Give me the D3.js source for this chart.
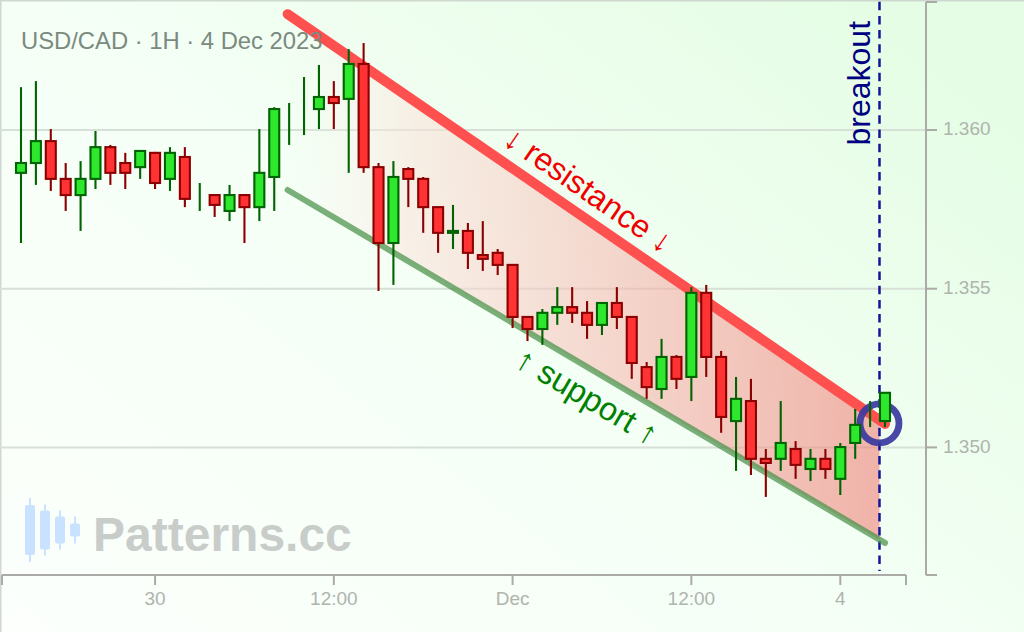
<!DOCTYPE html>
<html><head><meta charset="utf-8">
<script src="https://cdn.jsdelivr.net/npm/d3@7/dist/d3.min.js"></script>
<style>html,body{margin:0;padding:0;background:#fff}svg{display:block;font-family:"Liberation Sans",Arial,sans-serif}</style>
</head><body><svg id="c" width="1024" height="632"></svg>
<script>
const highs=[1.36135,1.36154,1.36003,1.35896,1.35902,1.35997,1.35953,1.35928,1.35934,1.35931,1.35946,1.35946,1.35833,1.35795,1.35827,1.35795,1.36003,1.36072,1.36085,1.36167,1.36205,1.36154,1.36255,1.36274,1.35896,1.35902,1.35883,1.35852,1.35757,1.35764,1.35707,1.35713,1.35625,1.35575,1.35411,1.35436,1.35505,1.35505,1.35461,1.35455,1.35505,1.35411,1.35269,1.35342,1.35291,1.35505,1.35512,1.35304,1.35222,1.35216,1.34995,1.35146,1.35020,1.34995,1.34995,1.35014,1.35121,1.35146,1.35172];
const lows=[1.35644,1.35827,1.35808,1.35745,1.35682,1.35814,1.35827,1.35814,1.35846,1.35814,1.35808,1.35757,1.35745,1.35726,1.35713,1.35644,1.35713,1.35745,1.35953,1.35984,1.36003,1.36003,1.35865,1.35865,1.35493,1.35512,1.35757,1.35676,1.35613,1.35625,1.35562,1.35556,1.35543,1.35376,1.35335,1.35323,1.35386,1.35392,1.35342,1.35354,1.35373,1.35216,1.35153,1.35153,1.35184,1.35146,1.35222,1.35046,1.34926,1.34913,1.34844,1.34926,1.34901,1.34894,1.34901,1.34850,1.34964,1.35064,1.35064];
const opens=[1.35865,1.35896,1.35965,1.35846,1.35795,1.35846,1.35946,1.35896,1.35883,1.35928,1.35846,1.35915,null,1.35795,1.35745,1.35795,1.35757,1.35852,null,null,1.36066,1.36104,1.36098,1.36208,1.35883,1.35644,1.35877,1.35846,1.35757,1.35676,1.35682,1.35606,1.35613,1.35575,1.35411,1.35373,1.35424,1.35442,1.35424,1.35386,1.35455,1.35411,1.35253,1.35184,1.35285,1.35222,1.35487,1.35285,1.35083,1.35146,1.34964,1.34964,1.34995,1.34932,1.34964,1.34901,1.35014,null,1.35083];
const closes=[1.35896,1.35965,1.35846,1.35795,1.35846,1.35946,1.35865,1.35865,1.35934,1.35833,1.35928,1.35783,null,1.35764,1.35795,1.35757,1.35865,1.36066,null,null,1.36104,1.36085,1.36208,1.35883,1.35644,1.35852,1.35846,1.35757,1.35676,1.35682,1.35613,1.35594,1.35575,1.35411,1.35373,1.35424,1.35442,1.35424,1.35386,1.35455,1.35411,1.35266,1.35190,1.35285,1.35216,1.35487,1.35285,1.35096,1.35153,1.34964,1.34951,1.35014,1.34945,1.34964,1.34932,1.35001,1.35071,null,1.35172];
const priceTicks=[1.35,1.355,1.36];
const priceLabels=["1.350","1.355","1.360"];
const timeTicks=[9,21,33,45,55];
const timeLabels=["30","12:00","Dec","12:00","4"];
const resistanceIdx=[17.9,58], resistancePx=[1.36365,1.35074];
const supportIdx=[17.9,58], supportPx=[1.35811,1.34699];
const breakoutIdx=57.63;
const bandIdx=[17.9,57.63], bandUpper=[1.36365,1.35086], bandLower=[1.35811,1.34709];
const logoCandles=[[0,64,7,51],[1,51,6,40],[2,39,6,27],[3,27,7,14]];

const W=1024,H=632;
const x=d3.scaleLinear().domain([0,58]).range([21,885]);
const y=d3.scaleLinear().domain([1.35,1.36]).range([447.4,130]);
const svg=d3.select("#c");
const defs=svg.append("defs");
const bg=defs.append("linearGradient").attr("id","bg").attr("x1","0").attr("y1","1").attr("x2","1").attr("y2","0.2");
bg.append("stop").attr("offset","0").attr("stop-color","#fcfffc");
bg.append("stop").attr("offset","0.5").attr("stop-color","#f5fff6");
bg.append("stop").attr("offset","1").attr("stop-color","#e5fde5");
const bandG=defs.append("linearGradient").attr("id","band").attr("gradientUnits","userSpaceOnUse").attr("x1",x(bandIdx[0])).attr("x2",x(bandIdx[1])).attr("y1",0).attr("y2",0);
bandG.append("stop").attr("offset","0").attr("stop-color","#fff6f2").attr("stop-opacity",0);
bandG.append("stop").attr("offset","0.2").attr("stop-color","#fbe4dc").attr("stop-opacity",0.55);
bandG.append("stop").attr("offset","1").attr("stop-color","#f08078").attr("stop-opacity",0.6);

svg.append("rect").attr("width",W).attr("height",H).attr("fill","url(#bg)");
svg.append("path").attr("d",`M0.75,${H}V0.75H${W}`).attr("fill","none").attr("stroke","#cfd8cf").attr("stroke-width",1.5);

// grid
svg.append("g").selectAll("line").data(priceTicks).join("line")
  .attr("x1",0).attr("x2",926).attr("y1",d=>y(d)).attr("y2",d=>y(d))
  .attr("stroke","#d6e0d6").attr("stroke-width",2);

// channel
const bandData=bandIdx.map((d,i)=>({i:d,u:bandUpper[i],l:bandLower[i]}));
svg.append("path").attr("d",d3.area().x(d=>x(d.i)).y0(d=>y(d.l)).y1(d=>y(d.u))(bandData)).attr("fill","url(#band)");

// breakout dashed line
svg.append("line").attr("x1",x(breakoutIdx)).attr("x2",x(breakoutIdx)).attr("y1",0).attr("y2",571)
  .attr("stroke","#14149a").attr("stroke-width",2.5).attr("stroke-dasharray","8.5 5.7").attr("stroke-dashoffset",-1.7);

const ln=d3.line().x(d=>x(d[0])).y(d=>y(d[1]));
svg.append("path").attr("d",ln(supportIdx.map((d,i)=>[d,supportPx[i]]))).attr("stroke","#4a914a").attr("stroke-opacity",0.72).attr("stroke-width",6).attr("stroke-linecap","round").attr("fill","none");
svg.append("path").attr("d",ln(resistanceIdx.map((d,i)=>[d,resistancePx[i]]))).attr("stroke","#ff5050").attr("stroke-width",10).attr("stroke-linecap","round").attr("fill","none");

// circle
svg.append("circle").attr("cx",x(breakoutIdx)).attr("cy",y(1.35076)).attr("r",19.5).attr("fill","none").attr("stroke","#3a3aa0").attr("stroke-width",6.8).attr("opacity",0.92);

// candles
const cd=highs.map((h,i)=>({i,h,l:lows[i],o:opens[i],c:closes[i]}));
const isUp=d=>d.o===null||d.c>=d.o;
const cg=svg.append("g");
cg.selectAll("line").data(cd).join("line")
  .attr("x1",d=>x(d.i)).attr("x2",d=>x(d.i)).attr("y1",d=>y(d.h)).attr("y2",d=>y(d.l))
  .attr("stroke",d=>isUp(d)?"#006400":"#8b0000").attr("stroke-width",2.1);
cg.selectAll("rect").data(cd.filter(d=>d.o!==null)).join("rect")
  .attr("x",d=>x(d.i)-5).attr("width",10)
  .attr("y",d=>y(Math.max(d.o,d.c))).attr("height",d=>Math.abs(y(d.o)-y(d.c)))
  .attr("fill",d=>isUp(d)?"#2ee82e":"#ff3333")
  .attr("stroke",d=>isUp(d)?"#006400":"#8b0000").attr("stroke-width",2.1);

// axes
const xAxis=d3.axisBottom(x).offset(0).tickValues([x.invert(2),...timeTicks,x.invert(906)]).tickSize(10).tickSizeOuter(0)
  .tickFormat(d=>{const k=timeTicks.indexOf(d);return k<0?"":timeLabels[k];});
const gx=svg.append("g").attr("transform","translate(0,575)").call(xAxis);
gx.select(".domain").attr("d","M2,0H906");
const yAxis=d3.axisRight(y).offset(0).tickValues([y.invert(2),...priceTicks,y.invert(575)]).tickSize(11).tickSizeOuter(0)
  .tickFormat(d=>{const k=priceTicks.indexOf(d);return k<0?"":priceLabels[k];});
const gy=svg.append("g").attr("transform","translate(926,0)").call(yAxis);
gy.select(".domain").attr("d","M0,2V575");
[gx,gy].forEach(g=>{
  g.selectAll(".domain,line").attr("stroke","#aaaaa6").attr("stroke-width",2);
  g.selectAll("text").attr("fill","#aeb4ae").attr("font-size",19).attr("font-family","'Liberation Sans',Arial,sans-serif");
});
gx.selectAll("text").attr("y",17);
gy.selectAll("text").attr("x",17).attr("dy","0.27em");

// texts
svg.append("text").attr("x",21).attr("y",49).attr("font-size",23.8).attr("fill","#7b8a80").text("USD/CAD · 1H · 4 Dec 2023");
svg.append("text").attr("transform","translate(870,145.5) rotate(-90)").attr("font-size",32).attr("fill","#000080").text("breakout");
svg.append("text").attr("transform","translate(587,192) rotate(34.5)").attr("text-anchor","middle").attr("dominant-baseline","middle").attr("font-size",32).attr("fill","#f00000").text("↓ resistance ↓");
svg.append("text").attr("transform","translate(586,398.5) rotate(30.6)").attr("text-anchor","middle").attr("dominant-baseline","middle").attr("font-size",32.5).attr("fill","#008000").text("↑ support ↑");

// watermark
svg.append("text").attr("x",93).attr("y",551).attr("font-size",48).attr("font-weight","bold").attr("fill","#c9cdc9").text("Patterns.cc");
const lg=svg.append("g").attr("fill","#c8e2ff");
logoCandles.forEach(([k,len,pad,body])=>{
  const cx=30+15*k;
  const mid=530;
  lg.append("rect").attr("x",cx-1).attr("width",2).attr("y",mid-len/2).attr("height",len);
  lg.append("rect").attr("x",cx-5).attr("width",10).attr("y",mid-(len/2-pad)).attr("height",len-2*pad).attr("rx",2);
});
</script></body></html>
